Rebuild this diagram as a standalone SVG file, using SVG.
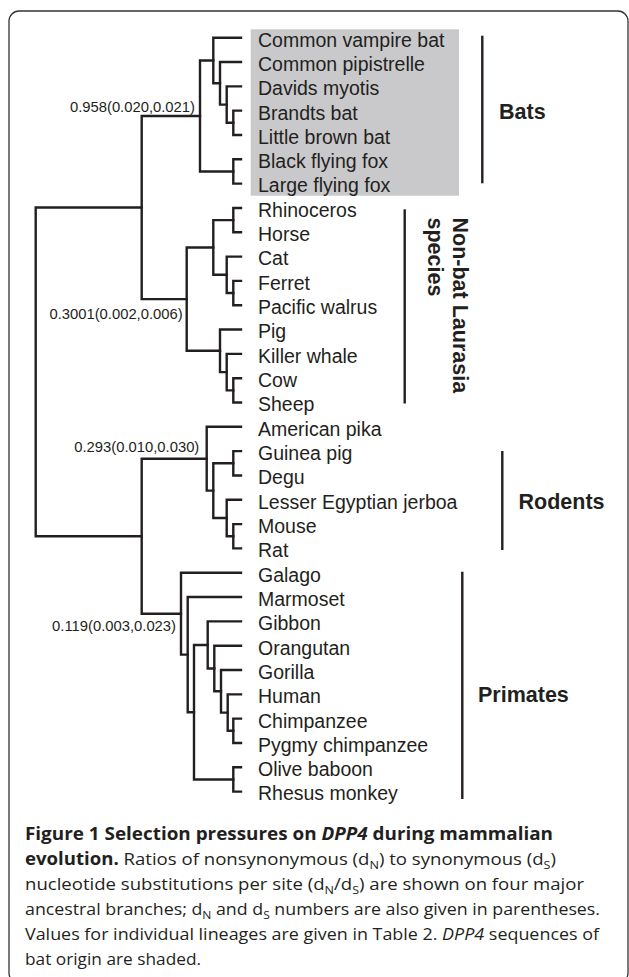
<svg xmlns="http://www.w3.org/2000/svg" width="629" height="977" viewBox="0 0 629 977">
<style>
.leaf{font-family:"Liberation Sans",Arial,sans-serif;font-size:19.5px;fill:#231f20}
.grp{font-family:"Liberation Sans",Arial,sans-serif;font-size:21.5px;font-weight:bold;fill:#231f20}
.val{font-family:"Liberation Sans",Arial,sans-serif;font-size:14.8px;fill:#231f20;text-anchor:end}
.tree path{fill:none;stroke:#231f20;stroke-width:2.4;stroke-linecap:square;stroke-linejoin:miter}
.bar{stroke:#231f20;stroke-width:2.4}
.cap{font-family:"Open Sans","Noto Sans",sans-serif;font-size:17px;fill:#231f20}
.b{font-weight:bold}
.i{font-style:italic}
.sub{font-size:11.5px}
</style>
<rect x="9" y="11" width="619" height="972" rx="10" ry="10" fill="#fff" stroke="#333" stroke-width="1.3"/>
<rect id="bat-shade" x="250.7" y="29.3" width="208.3" height="166.4" fill="#c9c9cb"/>
<g id="connectors" class="tree">
<path d="M241 110.66 H233.3 V134.98 H241"/>
<path d="M241 86.34 H226.7 V122.82 H233.3"/>
<path d="M241 62.02 H220 V104.58 H226.7"/>
<path d="M241 37.7 H213.3 V83.3 H220"/>
<path d="M241 159.3 H233.3 V183.62 H241"/>
<path d="M213.3 60.5 H200 V171.46 H233.3"/>
<path d="M241 207.94 H233.3 V232.26 H241"/>
<path d="M241 280.9 H233.3 V305.22 H241"/>
<path d="M241 256.58 H226.7 V293.06 H233.3"/>
<path d="M233.3 220.1 H213.3 V274.82 H226.7"/>
<path d="M241 378.18 H233.3 V402.5 H241"/>
<path d="M241 353.86 H226.7 V390.34 H233.3"/>
<path d="M241 329.54 H220 V372.1 H226.7"/>
<path d="M213.3 247.46 H186.7 V350.82 H220"/>
<path d="M200 115.98 H141.7 V299.14 H186.7"/>
<path d="M241 451.14 H233.3 V475.46 H241"/>
<path d="M241 524.1 H233.3 V548.42 H241"/>
<path d="M241 499.78 H226.7 V536.26 H233.3"/>
<path d="M233.3 463.3 H213.3 V518.02 H226.7"/>
<path d="M241 426.82 H206.7 V490.66 H213.3"/>
<path d="M241 718.66 H233.3 V742.98 H241"/>
<path d="M241 694.34 H227.7 V730.82 H233.3"/>
<path d="M241 670.02 H221 V712.58 H227.7"/>
<path d="M241 645.7 H214.3 V691.3 H221"/>
<path d="M241 621.38 H207.7 V668.5 H214.3"/>
<path d="M241 767.3 H233.3 V791.62 H241"/>
<path d="M207.7 644.94 H194 V779.46 H233.3"/>
<path d="M241 597.06 H187.7 V712.2 H194"/>
<path d="M241 572.74 H181 V654.63 H187.7"/>
<path d="M206.7 458.74 H141.7 V613.69 H181"/>
<path d="M141.7 207.56 H35.7 V536.2 H141.7"/>
</g>
<g id="branch-values">
<text class="val" x="195" y="111.5">0.958(0.020,0.021)</text>
<text class="val" x="182.7" y="319">0.3001(0.002,0.006)</text>
<text class="val" x="199.3" y="452">0.293(0.010,0.030)</text>
<text class="val" x="176" y="631">0.119(0.003,0.023)</text>
</g>
<g id="leaf-common-vampire-bat"><text class="leaf" x="258" y="46.5">Common vampire bat</text></g>
<g id="leaf-common-pipistrelle"><text class="leaf" x="258" y="70.8">Common pipistrelle</text></g>
<g id="leaf-davids-myotis"><text class="leaf" x="258" y="95.1">Davids myotis</text></g>
<g id="leaf-brandts-bat"><text class="leaf" x="258" y="119.5">Brandts bat</text></g>
<g id="leaf-little-brown-bat"><text class="leaf" x="258" y="143.8">Little brown bat</text></g>
<g id="leaf-black-flying-fox"><text class="leaf" x="258" y="168.1">Black flying fox</text></g>
<g id="leaf-large-flying-fox"><text class="leaf" x="258" y="192.4">Large flying fox</text></g>
<g id="leaf-rhinoceros"><text class="leaf" x="258" y="216.7">Rhinoceros</text></g>
<g id="leaf-horse"><text class="leaf" x="258" y="241.1">Horse</text></g>
<g id="leaf-cat"><text class="leaf" x="258" y="265.4">Cat</text></g>
<g id="leaf-ferret"><text class="leaf" x="258" y="289.7">Ferret</text></g>
<g id="leaf-pacific-walrus"><text class="leaf" x="258" y="314">Pacific walrus</text></g>
<g id="leaf-pig"><text class="leaf" x="258" y="338.3">Pig</text></g>
<g id="leaf-killer-whale"><text class="leaf" x="258" y="362.7">Killer whale</text></g>
<g id="leaf-cow"><text class="leaf" x="258" y="387">Cow</text></g>
<g id="leaf-sheep"><text class="leaf" x="258" y="411.3">Sheep</text></g>
<g id="leaf-american-pika"><text class="leaf" x="258" y="435.6">American pika</text></g>
<g id="leaf-guinea-pig"><text class="leaf" x="258" y="459.9">Guinea pig</text></g>
<g id="leaf-degu"><text class="leaf" x="258" y="484.3">Degu</text></g>
<g id="leaf-lesser-egyptian-jerboa"><text class="leaf" x="258" y="508.6">Lesser Egyptian jerboa</text></g>
<g id="leaf-mouse"><text class="leaf" x="258" y="532.9">Mouse</text></g>
<g id="leaf-rat"><text class="leaf" x="258" y="557.2">Rat</text></g>
<g id="leaf-galago"><text class="leaf" x="258" y="581.5">Galago</text></g>
<g id="leaf-marmoset"><text class="leaf" x="258" y="605.9">Marmoset</text></g>
<g id="leaf-gibbon"><text class="leaf" x="258" y="630.2">Gibbon</text></g>
<g id="leaf-orangutan"><text class="leaf" x="258" y="654.5">Orangutan</text></g>
<g id="leaf-gorilla"><text class="leaf" x="258" y="678.8">Gorilla</text></g>
<g id="leaf-human"><text class="leaf" x="258" y="703.1">Human</text></g>
<g id="leaf-chimpanzee"><text class="leaf" x="258" y="727.5">Chimpanzee</text></g>
<g id="leaf-pygmy-chimpanzee"><text class="leaf" x="258" y="751.8">Pygmy chimpanzee</text></g>
<g id="leaf-olive-baboon"><text class="leaf" x="258" y="776.1">Olive baboon</text></g>
<g id="leaf-rhesus-monkey"><text class="leaf" x="258" y="800.4">Rhesus monkey</text></g>
<g id="group-bats">
<line class="bar" x1="482.3" y1="35.7" x2="482.3" y2="183.3"/>
<text class="grp" x="499" y="119">Bats</text>
</g>
<g id="group-laurasia">
<line class="bar" x1="404.7" y1="209.3" x2="404.7" y2="403.5"/>
<g transform="translate(453,217.5) rotate(90)">
<text class="grp" x="0" y="0" font-size="22px">Non-bat Laurasia</text>
<text class="grp" x="0" y="25" font-size="22px">species</text>
</g>
</g>
<g id="group-rodents">
<line class="bar" x1="502.3" y1="451" x2="502.3" y2="550"/>
<text class="grp" x="518.5" y="509">Rodents</text>
</g>
<g id="group-primates">
<line class="bar" x1="462.3" y1="571.7" x2="462.3" y2="799"/>
<text class="grp" x="478" y="701.7">Primates</text>
</g>
<g id="caption">
<text class="cap" x="25" y="840" textLength="528" lengthAdjust="spacingAndGlyphs"><tspan class="b">Figure 1 Selection pressures on </tspan><tspan class="b i">DPP4</tspan><tspan class="b"> during mammalian</tspan></text>
<text class="cap" x="25" y="865" textLength="531" lengthAdjust="spacingAndGlyphs"><tspan class="b">evolution.</tspan> Ratios of nonsynonymous (d<tspan class="sub" dy="4">N</tspan><tspan dy="-4">) to synonymous (d</tspan><tspan class="sub" dy="4">S</tspan><tspan dy="-4">)</tspan></text>
<text class="cap" x="25" y="890" textLength="559" lengthAdjust="spacingAndGlyphs">nucleotide substitutions per site (d<tspan class="sub" dy="4">N</tspan><tspan dy="-4">/d</tspan><tspan class="sub" dy="4">S</tspan><tspan dy="-4">) are shown on four major</tspan></text>
<text class="cap" x="25" y="915" textLength="575" lengthAdjust="spacingAndGlyphs">ancestral branches; d<tspan class="sub" dy="4">N</tspan><tspan dy="-4"> and d</tspan><tspan class="sub" dy="4">S</tspan><tspan dy="-4"> numbers are also given in parentheses.</tspan></text>
<text class="cap" x="25" y="940" textLength="574" lengthAdjust="spacingAndGlyphs">Values for individual lineages are given in Table 2. <tspan class="i">DPP4</tspan> sequences of</text>
<text class="cap" x="25" y="965" textLength="176" lengthAdjust="spacingAndGlyphs">bat origin are shaded.</text>
</g>
</svg>
